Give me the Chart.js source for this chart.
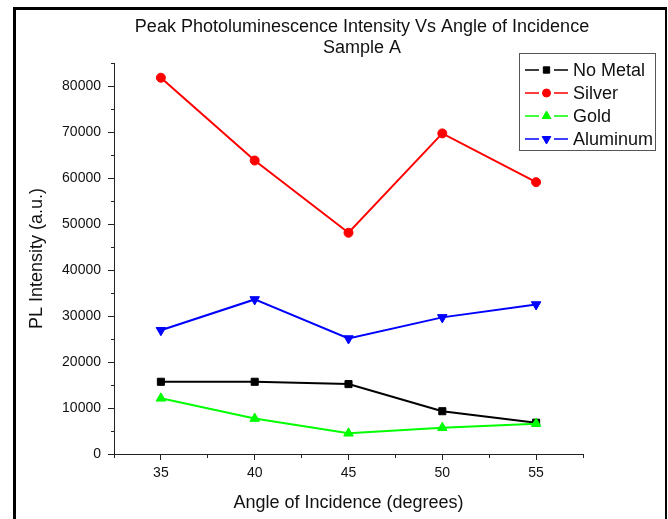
<!doctype html>
<html>
<head>
<meta charset="utf-8" />
<title>Peak Photoluminescence Intensity Vs Angle of Incidence</title>
<script src="https://cdn.jsdelivr.net/npm/chart.js@4.4.0/dist/chart.umd.min.js"></script>
<style>
  body { margin:0; background:#fff; }
  #wrap { position:relative; width:668px; height:519px; overflow:hidden; }
  #frame { position:absolute; left:13px; top:7px; width:649px; height:530px;
           border-left:3px solid #000; border-top:3px solid #000; border-right:2px solid #000;
           pointer-events:none; }
</style>
</head>
<body>
<div id="wrap">
  <canvas id="myChart" width="668" height="519"></canvas>
  <div id="frame"></div>
</div>

<script>
// data
const titleLines = ["Peak Photoluminescence Intensity Vs Angle of Incidence", "Sample A"];
const xTitle = "Angle of Incidence (degrees)";
const yTitle = "PL Intensity (a.u.)";
const seriesNames = ["No Metal", "Silver", "Gold", "Aluminum"];
const angles   = [35, 40, 45, 50, 55];
const noMetal  = [15700, 15700, 15200, 9300, 6800];
const silver   = [81800, 63800, 48100, 69700, 59100];
const gold     = [12100, 7700, 4500, 5700, 6600];
const aluminum = [26900, 33600, 25100, 29700, 32500];

const FONT = '"Liberation Sans", Arial, sans-serif';
Chart.defaults.font.family = FONT;
Chart.defaults.color = "#111";

function pts(ys) { return angles.map((a, i) => ({x: a, y: ys[i]})); }

function series(label, ys, color, style, radius, rot, order) {
  return {
    label: label, data: pts(ys),
    borderColor: color, backgroundColor: color,
    pointBackgroundColor: color, pointBorderColor: color,
    borderWidth: 2, pointBorderWidth: 1,
    pointStyle: style, pointRadius: radius, pointRotation: rot,
    tension: 0, order: order
  };
}

// header text
const header = {
  id: "header",
  afterDraw(chart) {
    const ctx = chart.ctx;
    ctx.save();
    ctx.fillStyle = "#111";
    ctx.font = "18px " + FONT;
    ctx.textAlign = "center";
    ctx.textBaseline = "middle";
    titleLines.forEach((t, i) => ctx.fillText(t, 362, 27 + i * 21));
    ctx.restore();
  }
};

// boxed legend like the Origin one: line - marker - line, then name
const boxLegend = {
  id: "boxLegend",
  afterDatasetsDraw(chart) {
    const ctx = chart.ctx;
    ctx.save();
    ctx.fillStyle = "#fff";
    ctx.fillRect(519.5, 53.5, 136, 97);
    ctx.strokeStyle = "#555";
    ctx.lineWidth = 1;
    ctx.strokeRect(519.5, 53.5, 136, 97);
    ctx.font = "18px " + FONT;
    ctx.textBaseline = "middle";
    chart.data.datasets.forEach((ds, i) => {
      const y = 70 + i * 23;
      ctx.strokeStyle = ds.borderColor;
      ctx.lineWidth = 1.5;
      ctx.beginPath();
      ctx.moveTo(525, y); ctx.lineTo(539, y);
      ctx.moveTo(554, y); ctx.lineTo(568, y);
      ctx.stroke();
      ctx.fillStyle = ds.pointBackgroundColor;
      ctx.strokeStyle = ds.pointBorderColor;
      ctx.lineWidth = 1;
      Chart.helpers.drawPoint(ctx, {pointStyle: ds.pointStyle, rotation: ds.pointRotation,
        radius: ds.pointRadius - 0.5, borderWidth: 1}, 546.5, y);
      ctx.fillStyle = "#111";
      ctx.fillText(ds.label, 573, y + 1);
    });
    ctx.restore();
  }
};

const whiteBg = {
  id: "whiteBg",
  beforeDraw(chart) {
    const ctx = chart.ctx;
    ctx.save();
    ctx.fillStyle = "#fff";
    ctx.fillRect(0, 0, chart.width, chart.height);
    ctx.restore();
  }
};

new Chart("myChart", {
  type: "line",
  data: {
    datasets: [
      series(seriesNames[0], noMetal,  "#000000", "rect",     5,   0,   4),
      series(seriesNames[1], silver,   "#ff0000", "circle",   4.5, 0,   3),
      series(seriesNames[2], gold,     "#00ff00", "triangle", 5.5, 0,   2),
      series(seriesNames[3], aluminum, "#0000ff", "triangle", 5.5, 180, 1)
    ]
  },
  options: {
    responsive: false,
    animation: false,
    events: [],
    layout: { padding: { top: 63, right: 85, bottom: 0, left: 0 } },
    plugins: { legend: { display: false }, title: { display: false }, tooltip: { enabled: false } },
    scales: {
      x: {
        type: "linear", min: 32.5, max: 57.5,
        afterFit: s => { s.height = 65; },
        border: { display: true, color: "#222", width: 1 },
        grid: { drawOnChartArea: false, tickLength: 6, color: "#222",
                tickBorderDash: c => (c.tick && c.tick.value % 5 !== 0) ? [3, 20] : [] },
        ticks: { stepSize: 2.5, autoSkip: false, maxRotation: 0, padding: 5,
                 font: { size: 14 }, color: "#111",
                 callback: v => v % 5 === 0 ? String(v) : "" },
        title: { display: true, text: xTitle, font: { size: 18 }, color: "#111",
                 padding: { top: 0, bottom: 5 } }
      },
      y: {
        min: 0, max: 85000,
        afterFit: s => { s.width = 114; },
        border: { display: true, color: "#222", width: 1 },
        grid: { drawOnChartArea: false, tickLength: 6, color: "#222",
                tickBorderDash: c => (c.tick && c.tick.value % 10000 !== 0) ? [0, 3, 3, 20] : [] },
        ticks: { stepSize: 5000, autoSkip: false, padding: 7,
                 font: { size: 14 }, color: "#111",
                 callback: v => v % 10000 === 0 ? String(v) : "" },
        title: { display: true, text: yTitle, font: { size: 18 }, color: "#111",
                 padding: { top: 26, bottom: 0 } }
      }
    }
  },
  plugins: [whiteBg, header, boxLegend]
});
</script>
</body>
</html>
